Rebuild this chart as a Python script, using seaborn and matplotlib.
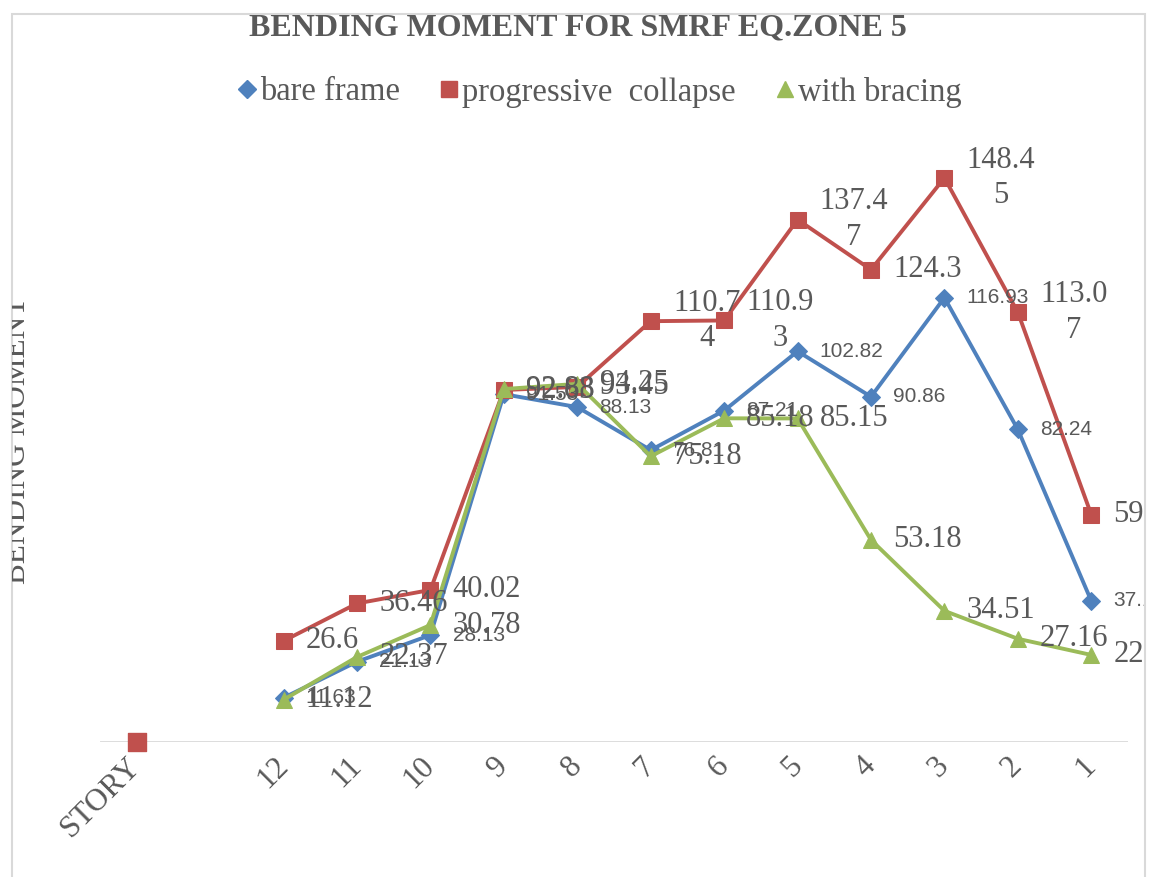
import numpy as np
import pandas as pd
import seaborn as sns
import matplotlib.pyplot as plt
from matplotlib.lines import Line2D
from matplotlib.patches import Rectangle
from matplotlib.transforms import Bbox, TransformedBbox

# category axis: STORY, an empty slot, then stories 12 .. 1
categories = ["STORY", "", "12", "11", "10", "9", "8", "7", "6", "5", "4", "3", "2", "1"]
stories = ["12", "11", "10", "9", "8", "7", "6", "5", "4", "3", "2", "1"]

bare_frame = [11.63, 21.13, 28.13, 91.53, 88.13, 76.81, 87.21, 102.82, 90.86, 116.93, 82.24, 37.13]
progressive = [26.6, 36.46, 40.02, 92.63, 93.45, 110.74, 110.93, 137.47, 124.3, 148.45, 113.07, 59.82]
bracing = [11.12, 22.37, 30.78, 92.88, 94.25, 75.18, 85.18, 85.15, 53.18, 34.51, 27.16, 22.91]
progressive_story = 0

BLUE, RED, GREEN = "#4F81BD", "#C0504D", "#9BBB59"
GREY = "#595959"
SERIF = "Liberation Serif"

sns.set_style("white")
plt.rcParams["font.family"] = [SERIF, "DejaVu Serif"]

fig = plt.figure(figsize=(11.55, 8.77), dpi=100)
ax = fig.add_axes([100 / 1155, 135 / 877, 1028 / 1155, 608 / 877])

pos = {c: i for i, c in enumerate(categories)}
df = pd.DataFrame({
    "pos": [pos[s] for s in stories] * 3,
    "value": bare_frame + progressive + bracing,
    "series": ["bare frame"] * 12 + ["progressive  collapse"] * 12 + ["with bracing"] * 12,
})

styles = {
    "bare frame": (BLUE, "D", 9),
    "progressive  collapse": (RED, "s", 12),
    "with bracing": (GREEN, "^", 12),
}
for name, (col, mk, ms) in styles.items():
    sub = df[df["series"] == name]
    sns.lineplot(data=sub, x="pos", y="value", color=col, marker=mk, markersize=ms,
                 markeredgecolor=col, linewidth=2.8, ax=ax, legend=False, clip_on=False)

# lone point at STORY
sns.scatterplot(x=[pos["STORY"]], y=[progressive_story], color=RED, marker="s", s=150,
                edgecolor=RED, ax=ax, legend=False, clip_on=False, zorder=5)

ax.set_xlim(-0.5, 13.5)
ax.set_ylim(0, 160)
for sp in ax.spines.values():
    sp.set_visible(False)
ax.axhline(0, color="#D9D9D9", lw=2, zorder=1)
ax.set_yticks([])
ax.set_xticks(range(len(categories)))
ax.set_xticklabels(categories, rotation=45, ha="right", va="center", rotation_mode="anchor",
                   fontsize=22.5, color=GREY, family=SERIF)
ax.tick_params(axis="x", length=0, pad=14)
ax.set_xlabel("")
ax.set_ylabel("")

clip = TransformedBbox(Bbox.from_extents(12 / 1155, 0, 1145 / 1155, 1), fig.transFigure)


def wrap(v):
    s = f"{v:g}"
    return s[:5] + "\n" + s[5:] if len(s) > 5 else s


def add_labels(values, fmt, **kw):
    for s, v in zip(stories, values):
        t = ax.annotate(fmt(v), (pos[s], v), xytext=(16, 0), textcoords="offset points",
                        ha="left", va="center", multialignment="center", color=GREY, **kw)
        t.set_clip_on(True)
        t.set_clip_box(clip)


add_labels(bare_frame, lambda v: f"{v:g}", fontsize=15, family="Liberation Sans")
add_labels(progressive, wrap, fontsize=22, family=SERIF, linespacing=1.3)
add_labels(bracing, lambda v: f"{v:g}", fontsize=22, family=SERIF)

fig.text(0.5, 1 - 28 / 877, "BENDING MOMENT FOR SMRF EQ.ZONE 5", ha="center", va="center",
         fontsize=23, weight="bold", color=GREY, family=SERIF)

yl = fig.text(18 / 1155, 1 - 440 / 877, "BENDING MOMENT", rotation=90, ha="center", va="center",
              fontsize=22.5, color=GREY, family=SERIF)
yl.set_clip_on(True)
yl.set_clip_box(clip)

handles = [Line2D([], [], color=c, marker=m, markersize=ms, lw=0, markeredgecolor=c)
           for c, m, ms in styles.values()]
fig.legend(handles, list(styles.keys()), loc="center", bbox_to_anchor=(0.519, 1 - 92 / 877),
           ncol=3, frameon=False, labelcolor=GREY, handlelength=0.6,
           handletextpad=0.1, columnspacing=1.2, prop={"family": SERIF, "size": 23.5})

fig.patches.append(Rectangle((12 / 1155, -0.02), (1145 - 12) / 1155, 1.02 - 14 / 877,
                             transform=fig.transFigure, fill=False, edgecolor="#D9D9D9", lw=1.5))

fig.savefig("out.png", dpi=100)
